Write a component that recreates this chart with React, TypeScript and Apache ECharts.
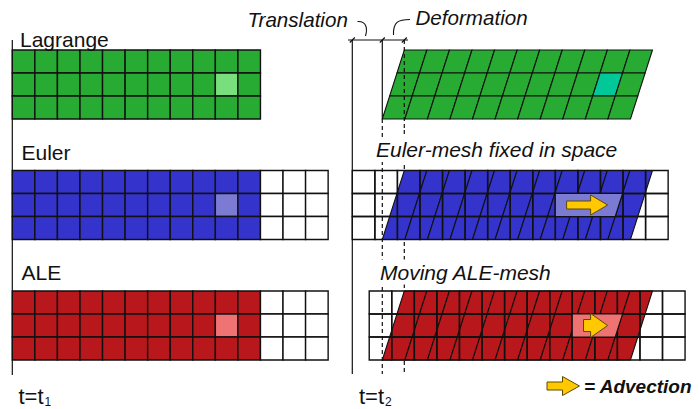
import React, { useEffect, useRef } from "react";
import * as echarts from "echarts";

// ---------------- data ----------------
const meshNames = ["Lagrange", "Euler", "ALE"];
const materialCols = [11, 11, 11];
const leftGridCols = [11, 14, 14];
const rightGridCols = [0, 14, 14];
const meshRows = [3, 3, 3];
const highlightCol = [9, 9, 9];
const highlightRow = [1, 1, 1];
const translationCells = [1.33];
const deformationCells = [0.975];
const rightMeshShift = [0, 0, 0.75];
const rightCaptions = ["", "Euler-mesh fixed in space", "Moving ALE-mesh"];
const topLabels = ["Translation", "Deformation"];
const timeBase = ["t=t", "t=t"];
const timeSubs = ["1", "2"];
const legendText = ["= Advection"];

// ---------------- layout / style ----------------
const W = 699;
const H = 409;
const FONT = '"Liberation Sans", Arial, Helvetica, sans-serif';
const X0 = 12.3;
const CW = 22.56;
const RH = 23;
const panelTop = [50, 170.5, 291];
const REF_X = 352.3;
const matColor = ["#27ab33", "#3434cc", "#b8171b"];
const leftHl = ["#78df7c", "#7b7bd3", "#f07373"];
const rightHl = ["#00c898", "#7b7bd3", "#f07373"];
const LINE = "#111";

function cellList(cols: number[]) {
  const out: number[][] = [];
  cols.forEach((n, m) => {
    for (let c = 0; c < n; c++) for (let r = 0; r < meshRows[m]; r++) out.push([m, c, r]);
  });
  return out;
}

function matPt(m: number, c: number, rLine: number) {
  const rows = meshRows[m];
  return [
    REF_X + (translationCells[0] + c) * CW + (deformationCells[0] * CW * (rows - rLine)) / rows,
    panelTop[m] + rLine * RH,
  ];
}
function gridX(m: number, c: number) {
  return REF_X + (rightMeshShift[m] + c) * CW;
}
function arrowPts(tail: number, tip: number, cy: number, sh: number, hh: number, hl: number) {
  return [
    [tail, cy - sh],
    [tip - hl, cy - sh],
    [tip - hl, cy - hh],
    [tip, cy],
    [tip - hl, cy + hh],
    [tip - hl, cy + sh],
    [tail, cy + sh],
  ];
}

export default function App() {
  const ref = useRef<HTMLDivElement>(null);
  useEffect(() => {
    if (!ref.current) return;
    const chart = echarts.init(ref.current, undefined, { renderer: "svg" });

    const advMeshes = [1, 2].filter((m) => rightGridCols[m] > 0);

    const txt = (text: string, x: number, y: number, size: number, opts: any = {}) => ({
      type: "text",
      x,
      y,
      z: 20,
      silent: true,
      style: {
        text,
        font: `${opts.style || "normal"} ${opts.weight || "normal"} ${size}px ${FONT}`,
        fill: "#111",
        textAlign: "left",
        textVerticalAlign: "middle",
        align: "left",
        verticalAlign: "middle",
        backgroundColor: opts.bg ? "#fff" : undefined,
        padding: opts.bg ? [2, 1, 2, 1] : undefined,
      },
    });
    const ln = (x1: number, y1: number, x2: number, y2: number, z: number, dash?: number[]) => ({
      type: "line",
      z,
      silent: true,
      shape: { x1, y1, x2, y2 },
      style: { stroke: LINE, lineWidth: 1.2, lineDash: dash },
    });

    const dimY = 40;
    const xTrans = matPt(0, 0, meshRows[0])[0];
    const xDef = matPt(0, 0, 0)[0];
    const bottomY = 374;

    const graphic: any[] = [
      // time axes
      ln(X0, 40, X0, 375, 10),
      ln(REF_X, 40, REF_X, bottomY, 10),
      ln(xTrans, 40, xTrans, panelTop[0] + 3 * RH, 10),
      ln(xTrans, panelTop[0] + 3 * RH, xTrans, bottomY, 1, [4, 3]),
      ln(xDef, dimY, xDef, 130, 10, [4, 3]),
      ln(xDef, 130, xDef, bottomY, 1, [4, 3]),
      // dimension line
      ln(348, dimY, 408, dimY, 10),
      ln(REF_X - 2.5, dimY + 2.5, REF_X + 2.5, dimY - 2.5, 10),
      ln(xTrans - 2.5, dimY + 2.5, xTrans + 2.5, dimY - 2.5, 10),
      ln(xDef - 2.5, dimY + 2.5, xDef + 2.5, dimY - 2.5, 10),
      {
        type: "bezierCurve",
        z: 10,
        silent: true,
        shape: { x1: 357.5, y1: 21.5, cpx1: 367, cpy1: 21, cpx2: 367.5, cpy2: 29, x2: 365.5, y2: 36 },
        style: { stroke: LINE, lineWidth: 1.1, fill: "none" },
      },
      {
        type: "bezierCurve",
        z: 10,
        silent: true,
        shape: { x1: 393.5, y1: 35, cpx1: 393, cpy1: 22, cpx2: 398, cpy2: 19.5, x2: 410, y2: 19.5 },
        style: { stroke: LINE, lineWidth: 1.1, fill: "none" },
      },
      // labels
      txt(topLabels[0], 247.5, 19.5, 20.6, { style: "italic" }),
      txt(topLabels[1], 415.5, 17.5, 20.6, { style: "italic" }),
      txt(meshNames[0], 20, 39, 21),
      txt(meshNames[1], 21.5, 152, 21),
      txt(meshNames[2], 21.5, 272, 21),
      txt(rightCaptions[1], 375, 149.5, 21, { style: "italic", bg: true }),
      txt(rightCaptions[2], 379, 272, 21, { style: "italic", bg: true }),
      txt(timeBase[0], 18.5, 396, 22),
      txt(timeSubs[0], 44.5, 401.5, 12),
      txt(timeBase[1], 359, 396, 22),
      txt(timeSubs[1], 385, 401.5, 12),
      {
        type: "polygon",
        z: 20,
        silent: true,
        shape: { points: arrowPts(547, 579.5, 386, 4, 9.5, 17) },
        style: { fill: "#ffc800", stroke: "#5c4a00", lineWidth: 1 },
      },
      txt(legendText[0], 584, 386, 19, { style: "italic", weight: "bold" }),
    ];

    const poly = (api: any, pts: number[][], style: any) => ({
      type: "polygon",
      shape: { points: pts.map((p) => api.coord(p)) },
      style,
    });

    const option: any = {
      animation: false,
      grid: { left: 0, right: 0, top: 0, bottom: 0, containLabel: false },
      xAxis: { type: "value", min: 0, max: W, show: false },
      yAxis: { type: "value", min: 0, max: H, inverse: true, show: false },
      tooltip: { show: false },
      graphic,
      series: [
        {
          type: "custom",
          name: "left cells",
          z: 2,
          silent: true,
          data: cellList(leftGridCols),
          renderItem: (_p: any, api: any) => {
            const m = api.value(0), c = api.value(1), r = api.value(2);
            const x0 = X0 + c * CW, y0 = panelTop[m] + r * RH;
            const isMat = c < materialCols[m];
            const isHl = c === highlightCol[m] && r === highlightRow[m];
            return poly(api, [[x0, y0], [x0 + CW, y0], [x0 + CW, y0 + RH], [x0, y0 + RH]], {
              fill: isMat ? (isHl ? leftHl[m] : matColor[m]) : "#fff",
              stroke: LINE,
              lineWidth: 1.4,
            });
          },
        },
        {
          type: "custom",
          name: "material t2",
          z: 3,
          silent: true,
          data: cellList(materialCols),
          renderItem: (_p: any, api: any) => {
            const m = api.value(0), c = api.value(1), r = api.value(2);
            const isHl = m === 0 && c === highlightCol[m] && r === highlightRow[m];
            return poly(api, [matPt(m, c, r), matPt(m, c + 1, r), matPt(m, c + 1, r + 1), matPt(m, c, r + 1)], {
              fill: isHl ? rightHl[m] : matColor[m],
              stroke: LINE,
              lineWidth: 1.1,
            });
          },
        },
        {
          type: "custom",
          name: "mesh t2",
          z: 4,
          silent: true,
          data: cellList(rightGridCols),
          renderItem: (_p: any, api: any) => {
            const m = api.value(0), c = api.value(1), r = api.value(2);
            const x0 = gridX(m, c), y0 = panelTop[m] + r * RH;
            return poly(api, [[x0, y0], [x0 + CW, y0], [x0 + CW, y0 + RH], [x0, y0 + RH]], {
              fill: "none",
              stroke: LINE,
              lineWidth: 1.4,
            });
          },
        },
        {
          type: "custom",
          name: "advected cell",
          z: 5,
          silent: true,
          data: advMeshes.map((m) => [m, 0]),
          renderItem: (_p: any, api: any) => {
            const m = api.value(0);
            const hc = highlightCol[m], hr = highlightRow[m];
            const xl = gridX(m, hc);
            const yT = panelTop[m] + hr * RH, yB = yT + RH;
            return poly(api, [[xl, yT], matPt(m, hc + 1, hr), matPt(m, hc + 1, hr + 1), [xl, yB]], {
              fill: rightHl[m],
              stroke: LINE,
              lineWidth: 1.1,
            });
          },
        },
        {
          type: "custom",
          name: "advection arrows",
          z: 6,
          silent: true,
          data: advMeshes.map((m) => [m, 0]),
          renderItem: (_p: any, api: any) => {
            const m = api.value(0);
            const hc = highlightCol[m], hr = highlightRow[m];
            const cy = panelTop[m] + (hr + 0.5) * RH;
            const tail = gridX(m, hc) + CW / 2;
            const tip = (matPt(m, hc, hr)[0] + matPt(m, hc + 1, hr + 1)[0]) / 2;
            const big = m === 2;
            return poly(api, arrowPts(tail, tip, cy, big ? 6 : 4, big ? 12 : 10, 17), {
              fill: "#ffc800",
              stroke: "#5c4a00",
              lineWidth: 1,
            });
          },
        },
      ],
    };
    chart.setOption(option);
    return () => chart.dispose();
  }, []);

  return (
    <div
      ref={ref}
      style={{ position: "absolute", left: 0, top: 0, width: W, height: H, background: "#fff" }}
    />
  );
}
